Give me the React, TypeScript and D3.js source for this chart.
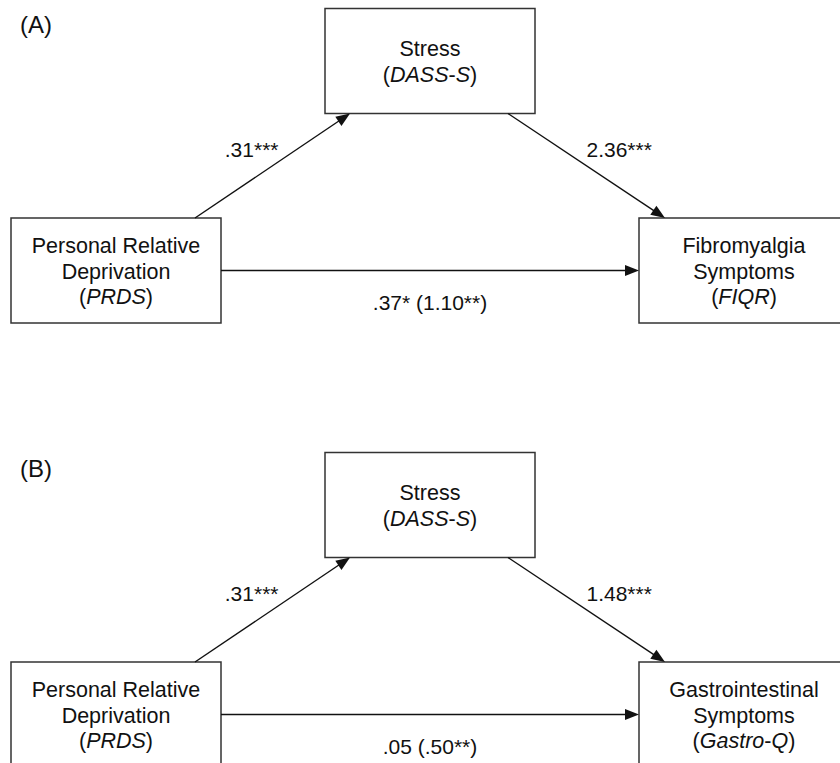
import { useRef, useEffect } from 'react';
import * as d3 from 'd3';

// panel tags and variable names
const panelTags = ['(A)', '(B)'];
const predictorLines = ['Personal Relative', 'Deprivation'];
const predictorMeasure = 'PRDS';
const mediatorLines = ['Stress'];
const mediatorMeasure = 'DASS-S';
const outcomeLines = [['Fibromyalgia', 'Symptoms'], ['Gastrointestinal', 'Symptoms']];
const outcomeMeasures = ['FIQR', 'Gastro-Q'];

// path coefficients, one entry per panel
const pathA = ['.31', '.31'];
const pathAStars = ['***', '***'];
const pathB = ['2.36', '1.48'];
const pathBStars = ['***', '***'];
const pathDirect = ['.37', '.05'];
const pathDirectStars = ['*', ''];
const pathTotal = ['1.10', '.50'];
const pathTotalStars = ['**', '**'];

const W = 840;
const H = 763;
const FONT = '"Liberation Sans", Arial, Helvetica, sans-serif';

export default function App() {
  const svgRef = useRef<SVGSVGElement>(null);

  useEffect(() => {
    const svg = d3.select(svgRef.current);
    svg.selectAll('*').remove();

    const boxW = 210;
    const boxH = 105;
    const colX = d3.scaleLinear().domain([0, 2]).range([11, 639]);
    const rowY = d3.scaleLinear().domain([0, 1]).range([8.5, 218]);
    const panelY = d3.scaleLinear().domain([0, 1]).range([0, 444]);
    const lineGap = 25.5;
    const boxFont = 21.5;
    const labelFont = 21;

    panelTags.forEach((tag, p) => {
      const g = svg.append('g').attr('transform', `translate(0,${panelY(p)})`);

      g.append('text').attr('x', 20).attr('y', 33)
        .attr('font-family', FONT).attr('font-size', 24).attr('fill', '#111')
        .text(tag);

      const drawBox = (col: number, row: number, lines: string[], measure: string) => {
        const x = colX(col), y = rowY(row);
        g.append('rect').attr('x', x).attr('y', y).attr('width', boxW).attr('height', boxH)
          .attr('fill', 'none').attr('stroke', '#333').attr('stroke-width', 1.5);
        const n = lines.length + 1;
        const cx = x + boxW / 2;
        const cy = y + boxH / 2 + 8;
        const base = (i: number) => cy + (i - (n - 1) / 2) * lineGap;
        lines.forEach((l, i) => {
          g.append('text').attr('x', cx).attr('y', base(i)).attr('text-anchor', 'middle')
            .attr('font-family', FONT).attr('font-size', boxFont).attr('fill', '#111').text(l);
        });
        const t = g.append('text').attr('x', cx).attr('y', base(n - 1)).attr('text-anchor', 'middle')
          .attr('font-family', FONT).attr('font-size', boxFont).attr('fill', '#111');
        t.append('tspan').text('(');
        measure.split('-').forEach((part, i) => {
          if (i > 0) t.append('tspan').text('-');
          t.append('tspan').attr('font-style', 'italic').text(part);
        });
        t.append('tspan').text(')');
      };

      drawBox(0, 1, predictorLines, predictorMeasure);
      drawBox(1, 0, mediatorLines, mediatorMeasure);
      drawBox(2, 1, outcomeLines[p], outcomeMeasures[p]);

      const drawArrow = (x1: number, y1: number, x2: number, y2: number) => {
        const dx = x2 - x1, dy = y2 - y1;
        const len = Math.sqrt(dx * dx + dy * dy);
        const ux = dx / len, uy = dy / len, hl = 14, hw = 5.5;
        g.append('line').attr('x1', x1).attr('y1', y1)
          .attr('x2', x2 - ux * (hl - 1)).attr('y2', y2 - uy * (hl - 1))
          .attr('stroke', '#111').attr('stroke-width', 1.4);
        g.append('polygon')
          .attr('points', [`${x2},${y2}`, `${x2 - ux * hl + uy * hw},${y2 - uy * hl - ux * hw}`, `${x2 - ux * hl - uy * hw},${y2 - uy * hl + ux * hw}`].join(' '))
          .attr('fill', '#111');
      };

      // a path: predictor -> mediator
      const a1 = [colX(0) + boxW - 26, rowY(1)];
      const a2 = [colX(1) + 25, rowY(0) + boxH];
      drawArrow(a1[0], a1[1], a2[0], a2[1]);
      // b path: mediator -> outcome
      const b1 = [colX(1) + boxW - 27, rowY(0) + boxH];
      const b2 = [colX(2) + 26, rowY(1)];
      drawArrow(b1[0], b1[1], b2[0], b2[1]);
      // c path: predictor -> outcome
      const cy = rowY(1) + boxH / 2;
      drawArrow(colX(0) + boxW, cy, colX(2), cy);

      const label = (x: number, y: number, anchor: string, s: string) =>
        g.append('text').attr('x', x).attr('y', y).attr('text-anchor', anchor)
          .attr('font-family', FONT).attr('font-size', labelFont).attr('fill', '#111')
          .attr('xml:space', 'preserve').text(s);

      label((a1[0] + a2[0]) / 2 + 6, (a1[1] + a2[1]) / 2 - 9, 'end', pathA[p] + pathAStars[p]);
      label((b1[0] + b2[0]) / 2, (b1[1] + b2[1]) / 2 - 9, 'start', pathB[p] + pathBStars[p]);
      label((colX(0) + boxW + colX(2)) / 2, cy + 39.5, 'middle',
        `${pathDirect[p]}${pathDirectStars[p]} (${pathTotal[p]}${pathTotalStars[p]})`);
    });
  }, []);

  return (
    <div style={{ position: 'absolute', left: 0, top: 0, width: W, height: H, overflow: 'hidden', background: '#fff' }}>
      <svg ref={svgRef} width={W} height={H} viewBox={`0 0 ${W} ${H}`} style={{ display: 'block' }} />
    </div>
  );
}
